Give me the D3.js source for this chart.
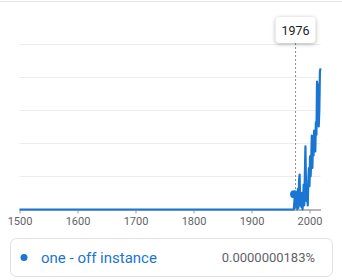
<html>
<head>
<meta charset="utf-8">
<script src="https://d3js.org/d3.v7.min.js"></script>
<style>
	body { margin: 0; background: #fff; }
	svg { display: block; font-family: Roboto, "Noto Sans", sans-serif; }
</style>
</head>
<body>
<svg id="chart"></svg>
<script>

// years and values (in units of 1e-8 %), zero before the 1970s
var years = [1500, 1970, 1971, 1972, 1973, 1974, 1975, 1976, 1977, 1978, 1979,
	1980, 1981, 1982, 1983, 1984, 1985, 1986, 1987, 1988, 1989,
	1990, 1991, 1992, 1993, 1994, 1995, 1996, 1997, 1998, 1999,
	2000, 2001, 2002, 2003, 2004, 2005, 2006, 2007, 2008, 2009,
	2010, 2011, 2012, 2013, 2014, 2015, 2016, 2017, 2018, 2019];
var values = [0, 0, 0, 0, 0, 1.0, 1.9, 1.83, 0.3, 1.6, 0,
	2.5, 0.2, 3.5, 4.2, 0.5, 1.5, 0.3, 2.0, 0, 1.2,
	3.0, 0.5, 4.0, 7.6, 3.0, 1.0, 2.5, 0.5, 3.5, 5.0,
	2.8, 6.4, 4.0, 6.0, 8.9, 5.0, 8.5, 6.5, 9.5, 9.0,
	7.0, 10.5, 9.0, 15.4, 15.0, 14.5, 10.0, 12.0, 16.6, 17.0];
var xTicks = [1500, 1600, 1700, 1800, 1900, 2000];
var gridTicks = [4, 8, 12, 16, 20];
var seriesName = "one - off instance";
var hoverYear = 1976;
var hoverLabel = "0.0000000183%";

var W = 342, H = 280;
var svg = d3.select("#chart").attr("width", W).attr("height", H);

var x = d3.scaleLinear().domain([1500, 2019]).range([19.5, 320.5]);
var y = d3.scaleLinear().domain([0, 20]).range([209.5, 43.5]);

// top divider
svg.append("line")
	.attr("x1", 0).attr("x2", W).attr("y1", 1.5).attr("y2", 1.5)
	.style("stroke", "#e3e3e3");

// grid lines
svg.selectAll(".grid").data(gridTicks).enter().append("line")
	.attr("x1", x(1500)).attr("x2", x(2019))
	.attr("y1", function(d){ return Math.round(y(d)) + 0.5; })
	.attr("y2", function(d){ return Math.round(y(d)) + 0.5; })
	.style("stroke", "#ededed");

// x axis
var axis = svg.append("g").attr("transform", "translate(0," + y(0) + ")")
	.call(d3.axisBottom(x).tickValues(xTicks).tickFormat(d3.format("d")).tickSize(4).tickSizeOuter(0));
axis.select(".domain").style("stroke", "#9e9e9e").style("stroke-width", 1.5);
axis.selectAll(".tick line").style("stroke", "#9e9e9e");
axis.selectAll(".tick text").style("fill", "#5f6368").style("font-size", "11px")
	.attr("y", 8).attr("dy", "0.71em")
	.style("font-family", "Roboto, sans-serif");

// hover dashed line
svg.append("line")
	.attr("x1", x(hoverYear)).attr("x2", x(hoverYear))
	.attr("y1", 43).attr("y2", y(0))
	.style("stroke", "#8a8a8a").style("stroke-dasharray", "2,2");

// data line
var pts = years.map(function(d, i){ return [d, values[i]]; });
var line = d3.line().x(function(d){ return x(d[0]); }).y(function(d){ return y(d[1]); });
svg.append("path").datum(pts)
	.attr("d", line)
	.style("fill", "none")
	.style("stroke", "#1976d2")
	.style("stroke-width", 2.2)
	.style("stroke-linejoin", "round");

// hover dot
svg.append("circle")
	.attr("cx", x(hoverYear) - 1.5).attr("cy", y(values[years.indexOf(hoverYear)]))
	.attr("r", 4).style("fill", "#1976d2");

// tooltip
var tip = svg.append("g");
tip.append("rect")
	.attr("x", x(hoverYear) - 20).attr("y", 17)
	.attr("width", 40).attr("height", 26).attr("rx", 4)
	.style("fill", "#fff")
	.style("filter", "drop-shadow(0px 1px 2px rgba(0,0,0,0.3))");
tip.append("text")
	.attr("x", x(hoverYear)).attr("y", 34.5)
	.style("text-anchor", "middle")
	.style("font-size", "12.5px")
	.style("fill", "#202124")
	.text(hoverYear);

// legend box
var leg = svg.append("g");
leg.append("rect")
	.attr("x", 10.5).attr("y", 238.5)
	.attr("width", 322).attr("height", 38).attr("rx", 6)
	.style("fill", "#fff").style("stroke", "#e0e0e0");
leg.append("circle")
	.attr("cx", 24).attr("cy", 257.5).attr("r", 3.5)
	.style("fill", "#1976d2");
leg.append("text")
	.attr("x", 41).attr("y", 262.5)
	.style("font-size", "15px")
	.style("fill", "#1976d2")
	.text(seriesName);
leg.append("text")
	.attr("x", 315).attr("y", 262)
	.style("text-anchor", "end")
	.style("font-size", "13px")
	.style("fill", "#5f6368")
	.text(hoverLabel);

</script>
</body>
</html>
